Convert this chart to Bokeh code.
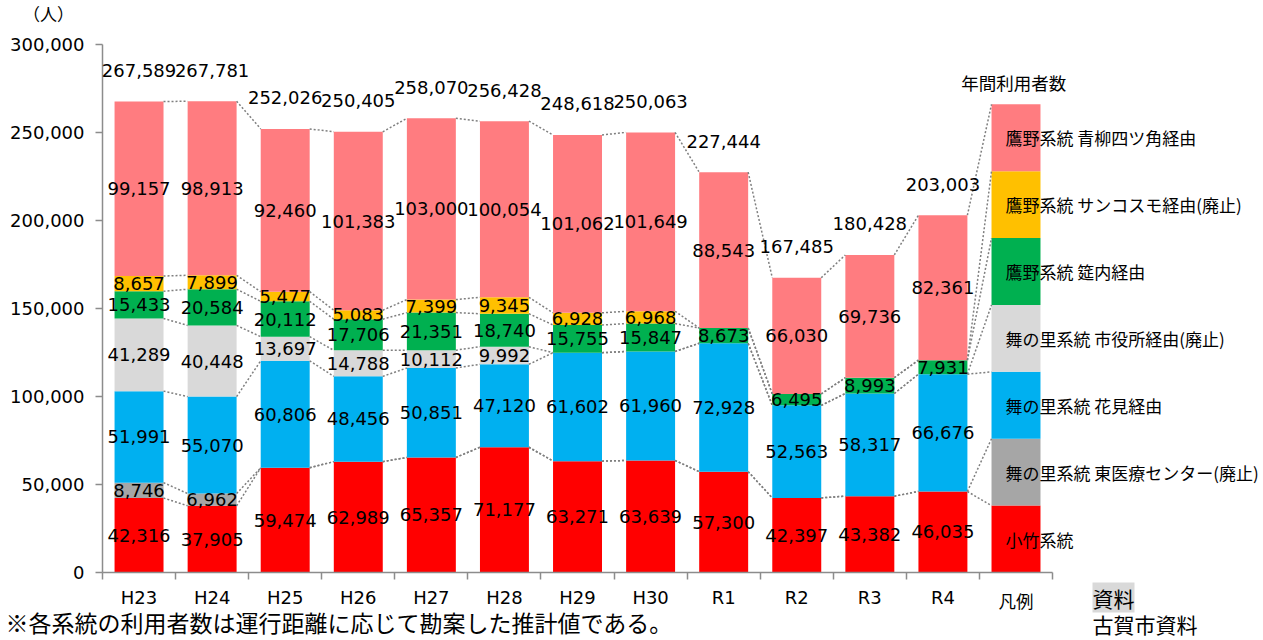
from bokeh.plotting import figure
from bokeh.models import (ColumnDataSource, Range1d, FixedTicker, NumeralTickFormatter,
                          LabelSet, Label)
from bokeh.core.properties import value
from bokeh.embed import file_html
from bokeh.resources import INLINE

# ---------------- data ----------------
categories = ["H23", "H24", "H25", "H26", "H27", "H28", "H29", "H30", "R1", "R2", "R3", "R4"]
legend_category = "凡例"
series_names = [
    "小竹系統",
    "舞の里系統 東医療センター(廃止)",
    "舞の里系統 花見経由",
    "舞の里系統 市役所経由(廃止)",
    "鷹野系統 筵内経由",
    "鷹野系統 サンコスモ経由(廃止)",
    "鷹野系統 青柳四ツ角経由",
]
kotake = [42316, 37905, 59474, 62989, 65357, 71177, 63271, 63639, 57300, 42397, 43382, 46035]
maino_higashi = [8746, 6962, 0, 0, 0, 0, 0, 0, 0, 0, 0, 0]
maino_hanami = [51991, 55070, 60806, 48456, 50851, 47120, 61602, 61960, 72928, 52563, 58317, 66676]
maino_shiyakusho = [41289, 40448, 13697, 14788, 10112, 9992, 0, 0, 0, 0, 0, 0]
takano_mushirouchi = [15433, 20584, 20112, 17706, 21351, 18740, 15755, 15847, 8673, 6495, 8993, 7931]
takano_suncosmo = [8657, 7899, 5477, 5083, 7399, 9345, 6928, 6968, 0, 0, 0, 0]
takano_aoyagi = [99157, 98913, 92460, 101383, 103000, 100054, 101062, 101649, 88543, 66030, 69736, 82361]
legend_unit = 38000  # height of each segment of the legend column

series = [kotake, maino_higashi, maino_hanami, maino_shiyakusho,
          takano_mushirouchi, takano_suncosmo, takano_aoyagi]
colors = ["#FF0000", "#A6A6A6", "#00B0F0", "#D9D9D9", "#00B050", "#FFC000", "#FF7C80"]

# ---------------- layout helpers (canvas pixels -> data) ----------------
W, H = 1263, 640
AX_LEFT, AX_BOTTOM, AX_TOP = 102, 572, 44
CAT_W = 73.08
def dx(px):
    return (px - AX_LEFT) / CAT_W
def dy(py):
    return (AX_BOTTOM - py) * 300000 / (AX_BOTTOM - AX_TOP)
PX = 300000 / (AX_BOTTOM - AX_TOP)  # data units per pixel

BAR_W = 0.67
NUM_FONT = "DejaVu Sans"
JP_FONT = "Noto Sans CJK JP"
NUM_SIZE = "18px"
JP_SIZE = "17px"

n = len(categories)
ncat = n + 1

p = figure(width=W, height=H, output_backend="svg", toolbar_location=None,
           x_range=Range1d(dx(0), dx(W)), y_range=Range1d(dy(H), dy(0)),
           min_border=0)
p.outline_line_color = None
p.xgrid.visible = False
p.ygrid.visible = False
p.background_fill_color = "white"

AXIS_COLOR = "#8C8C8C"
# y axis
p.yaxis.fixed_location = 0
p.yaxis.bounds = (0, 300000)
p.yaxis.ticker = FixedTicker(ticks=[0, 50000, 100000, 150000, 200000, 250000, 300000])
p.yaxis.formatter = NumeralTickFormatter(format="0,0")
p.yaxis.axis_line_color = AXIS_COLOR
p.yaxis.axis_line_width = 1.5
p.yaxis.major_tick_line_color = AXIS_COLOR
p.yaxis.major_tick_line_width = 1.5
p.yaxis.major_tick_out = 7
p.yaxis.major_tick_in = 0
p.yaxis.minor_tick_line_color = None
p.yaxis.major_label_standoff = 11
p.yaxis.major_label_text_font = NUM_FONT
p.yaxis.major_label_text_font_size = NUM_SIZE
p.yaxis.major_label_text_color = "black"

# x axis: ticks on category boundaries, labels drawn separately
p.xaxis.fixed_location = 0
p.xaxis.bounds = (0, ncat)
p.xaxis.ticker = FixedTicker(ticks=list(range(ncat + 1)))
p.xaxis.major_label_overrides = {i: "" for i in range(ncat + 1)}
p.xaxis.major_label_text_font_size = "1px"
p.xaxis.axis_line_color = AXIS_COLOR
p.xaxis.axis_line_width = 1.5
p.xaxis.major_tick_line_color = AXIS_COLOR
p.xaxis.major_tick_line_width = 1.5
p.xaxis.major_tick_out = 7
p.xaxis.major_tick_in = 0
p.xaxis.minor_tick_line_color = None

# ---------------- stacked bars ----------------
xs = [i + 0.5 for i in range(n)]
cum_tops = []
bottom = [0] * n
lab_x, lab_y, lab_t = [], [], []
for k, vals in enumerate(series):
    top = [b + v for b, v in zip(bottom, vals)]
    src = ColumnDataSource(dict(x=xs, bottom=bottom, top=top))
    p.vbar(x="x", bottom="bottom", top="top", width=BAR_W, source=src,
           fill_color=colors[k], line_color=None)
    for i, v in enumerate(vals):
        if v > 0:
            lab_x.append(xs[i])
            lab_y.append((bottom[i] + top[i]) / 2)
            lab_t.append(f"{v:,}")
    cum_tops.append(top)
    bottom = top

# legend column
leg_x = n + 0.5
leg_bottom = [k * legend_unit for k in range(len(series))]
leg_top = [(k + 1) * legend_unit for k in range(len(series))]
p.vbar(x=[leg_x] * len(series), bottom=leg_bottom, top=leg_top, width=BAR_W,
       fill_color=colors, line_color=None)

# dotted connector lines
x0s, y0s, x1s, y1s = [], [], [], []
for k, top in enumerate(cum_tops):
    for i in range(n - 1):
        x0s.append(xs[i] + BAR_W / 2); y0s.append(top[i])
        x1s.append(xs[i + 1] - BAR_W / 2); y1s.append(top[i + 1])
    x0s.append(xs[-1] + BAR_W / 2); y0s.append(top[-1])
    x1s.append(leg_x - BAR_W / 2); y1s.append(leg_top[k])
p.segment(x0=x0s, y0=y0s, x1=x1s, y1=y1s, line_color="#7F7F7F",
          line_width=1.5, line_dash="2 2")

def labelset(xv, yv, tv, font, size, align="center"):
    src = ColumnDataSource(dict(x=xv, y=yv, t=tv))
    p.add_layout(LabelSet(x="x", y="y", text="t", source=src, text_align=align,
                          text_baseline="middle", text_font=value(font),
                          text_font_size=value(size), text_color="black"))

# value labels
labelset(lab_x, lab_y, lab_t, NUM_FONT, NUM_SIZE)

# totals
totals = cum_tops[-1]
labelset(xs, [t + 31 * PX for t in totals], [f"{t:,}" for t in totals], NUM_FONT, NUM_SIZE)

# legend texts
labelset([leg_x - BAR_W / 2 + 14 / CAT_W] * len(series),
         [b + legend_unit / 2 for b in leg_bottom], series_names,
         JP_FONT, JP_SIZE, align="left")
p.add_layout(Label(x=leg_x - 0.03, y=leg_top[-1] + 22 * PX, text="年間利用者数", text_align="center",
                   text_baseline="middle", text_font=JP_FONT, text_font_size="17.5px",
                   text_color="black"))

# category labels
labelset(xs, [dy(597)] * n, categories, NUM_FONT, NUM_SIZE)
p.add_layout(Label(x=leg_x, y=dy(600), text=legend_category, text_align="center",
                   text_baseline="middle", text_font=JP_FONT, text_font_size="17.5px",
                   text_color="black"))

# unit, note, source
p.add_layout(Label(x=dx(48), y=dy(13), text="（人）", text_align="center", text_baseline="middle",
                   text_font=JP_FONT, text_font_size="17px", text_color="black"))
p.add_layout(Label(x=dx(5), y=dy(621), text="※各系統の利用者数は運行距離に応じて勘案した推計値である。",
                   text_align="left", text_baseline="middle", text_font=JP_FONT,
                   text_font_size="23px", text_color="black"))
p.add_layout(Label(x=dx(1092), y=dy(597), text="資料", text_align="left", text_baseline="middle",
                   text_font=JP_FONT, text_font_size="21px", text_color="black",
                   background_fill_color="#D9D9D9"))
p.add_layout(Label(x=dx(1092), y=dy(623), text="古賀市資料", text_align="left", text_baseline="middle",
                   text_font=JP_FONT, text_font_size="21px", text_color="black"))

open("out.html", "w").write(file_html(p, INLINE))
